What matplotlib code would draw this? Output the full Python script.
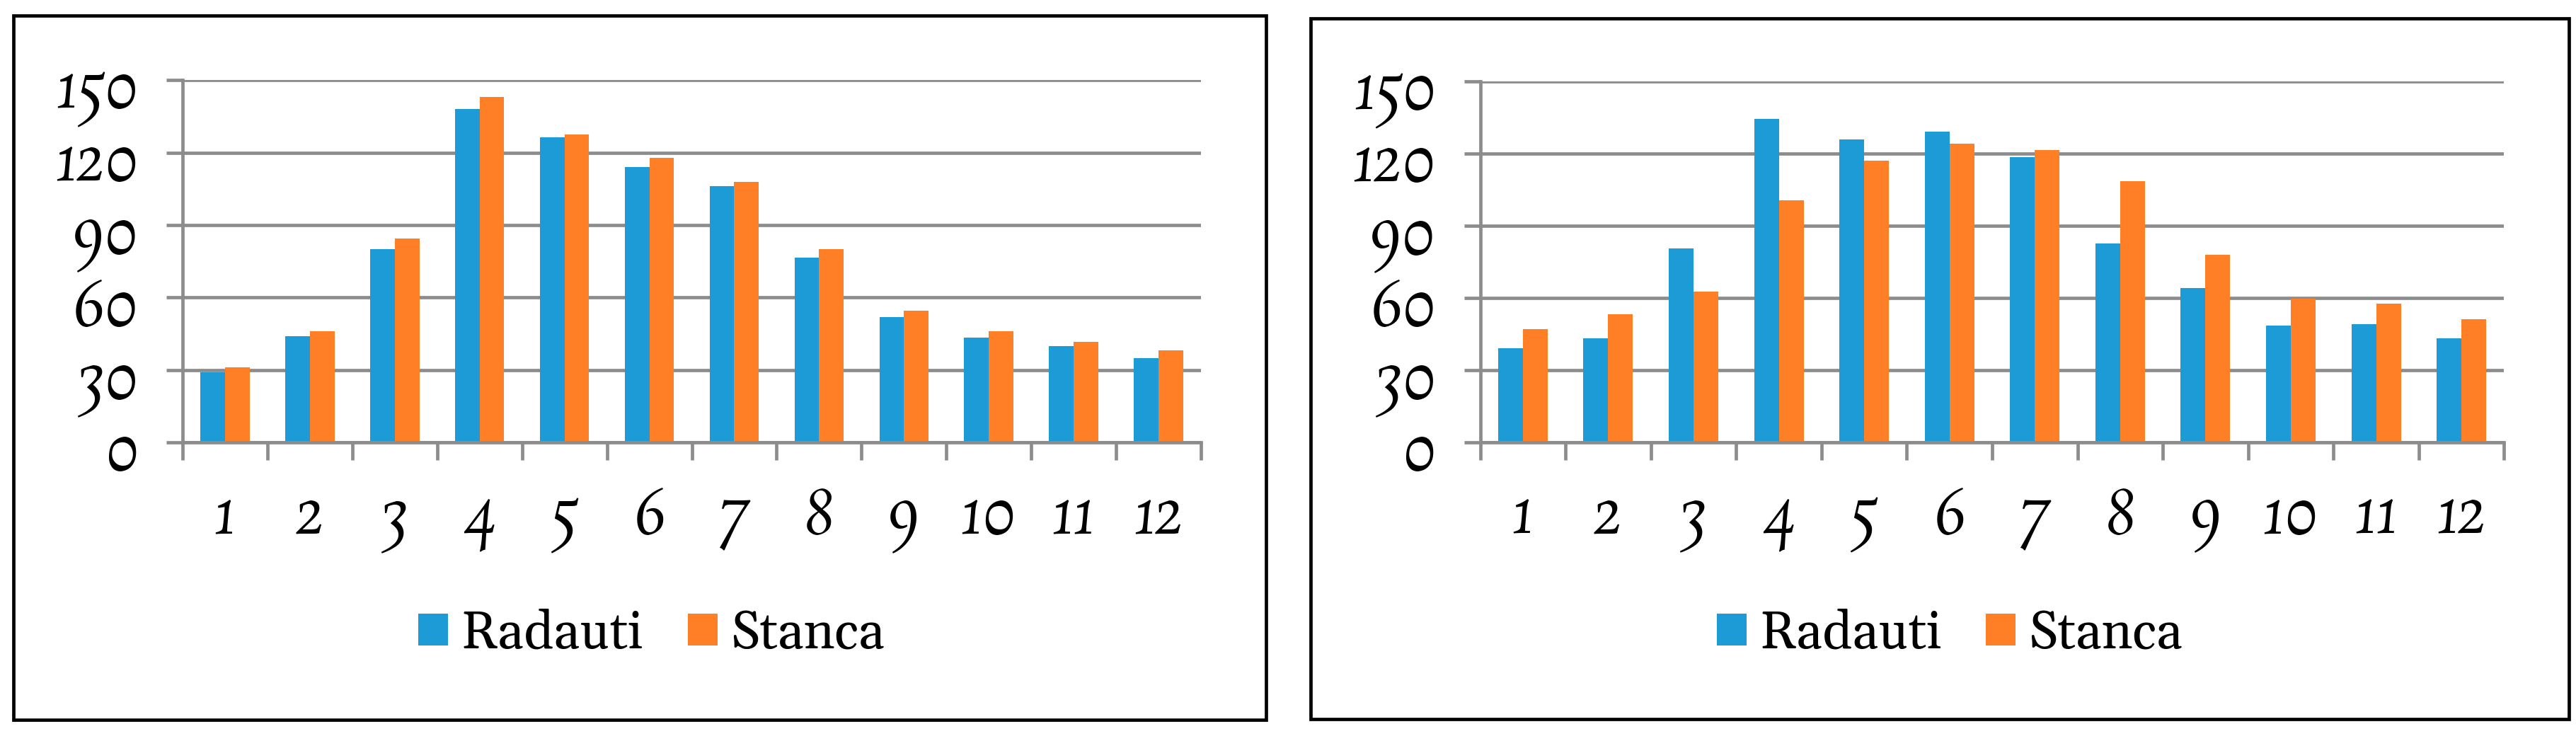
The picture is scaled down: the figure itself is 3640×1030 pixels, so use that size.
import matplotlib
matplotlib.use("Agg")
import matplotlib.pyplot as plt
from matplotlib.patches import Rectangle, Patch
import numpy as np

months = ["1", "2", "3", "4", "5", "6", "7", "8", "9", "10", "11", "12"]
series_names = ["Radauti", "Stanca"]
left_radauti = [29, 44, 80, 138, 126.5, 114, 106, 76.5, 52, 43.5, 40, 35]
left_stanca = [31, 46, 84.5, 143, 127.5, 118, 108, 80, 54.5, 46, 41.5, 38]
right_radauti = [39, 43, 80.5, 134.5, 126, 129, 118.5, 82.5, 64, 48.5, 49, 43]
right_stanca = [47, 53, 62.5, 100.5, 117, 124, 121.5, 108.5, 78, 59.5, 57.5, 51]
yticks = [0, 30, 60, 90, 120, 150]

BLUE = "#1D9BD7"
ORANGE = "#FF7F27"
GRAY = "#8C8C8C"
TICK_FONT = ["Rosarivo", "Gelasio", "DejaVu Serif"]
LEG_FONT = ["Gelasio", "DejaVu Serif"]

W, H, DPI = 3640, 1030, 100
fig = plt.figure(figsize=(W / DPI, H / DPI), dpi=DPI)
fig.patch.set_facecolor("white")


def px_rect(x0, y0, x1, y1):
    return [x0 / W, 1 - y1 / H, (x1 - x0) / W, (y1 - y0) / H]


def draw_chart(axrect, r_vals, s_vals, legend_center):
    ax = fig.add_axes(axrect)
    x = np.arange(len(months))
    bw = 0.29
    ax.bar(x - bw / 2, r_vals, width=bw, color=BLUE, label=series_names[0], zorder=1)
    ax.bar(x + bw / 2, s_vals, width=bw, color=ORANGE, label=series_names[1], zorder=1)
    ax.set_xlim(-0.5, len(months) - 0.5)
    ax.set_ylim(0, 150)
    ax.set_axisbelow(True)
    ax.set_yticks(yticks)
    ax.set_yticklabels([str(v) for v in yticks], fontsize=64, style="italic",
                       family=TICK_FONT)
    ax.yaxis.grid(True, color=GRAY, linewidth=3.4)
    ax.set_xticks(x)
    ax.set_xticklabels(months, fontsize=64, style="italic", family=TICK_FONT)
    ax.set_xticks(np.arange(-0.5, len(months)), minor=True)
    ax.tick_params(axis="x", which="major", length=0, pad=36)
    ax.tick_params(axis="x", which="minor", length=18, width=3.4, color=GRAY)
    ax.tick_params(axis="y", which="major", length=16.5, width=3.4, color=GRAY, pad=28)
    for side in ("top", "right"):
        ax.spines[side].set_visible(False)
    for side in ("left", "bottom"):
        ax.spines[side].set_color(GRAY)
        ax.spines[side].set_linewidth(3.4)
    handles = [Patch(facecolor=BLUE, edgecolor="none", label=series_names[0]),
               Patch(facecolor=ORANGE, edgecolor="none", label=series_names[1])]
    fig.legend(handles=handles, loc="center", bbox_to_anchor=legend_center,
               bbox_transform=fig.transFigure, ncol=2, frameon=False,
               prop={"family": LEG_FONT, "size": 53},
               handlelength=0.57, handleheight=0.57, handletextpad=0.25,
               columnspacing=0.85, borderpad=0, borderaxespad=0)
    return ax


draw_chart(px_rect(258, 113.4, 1697, 625), left_radauti, left_stanca,
           (920.5 / W, 1 - 895 / H))
draw_chart(px_rect(2091.5, 115, 3538.5, 624.5), right_radauti, right_stanca,
           (2755 / W, 1 - 895 / H))

for (x0, y0, x1, y1) in [(19, 21.5, 1789, 1016.5), (1851.5, 25.5, 3629.5, 1015.5)]:
    l, b, w, h = px_rect(x0, y0, x1, y1)
    fig.patches.append(Rectangle((l, b), w, h, transform=fig.transFigure,
                                 fill=False, edgecolor="black", linewidth=3.4,
                                 zorder=10))

fig.savefig("out.png", dpi=DPI, facecolor="white")
